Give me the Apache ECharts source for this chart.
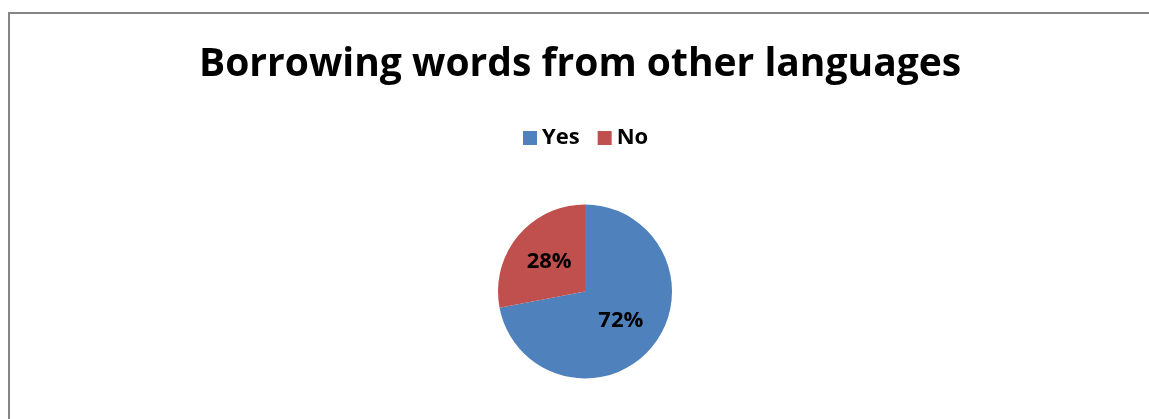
<!DOCTYPE html>
<html>
<head>
<meta charset="utf-8">
<script src="https://cdn.jsdelivr.net/npm/echarts@6/dist/echarts.min.js"></script>
<style>
  html, body { margin: 0; padding: 0; background: #fff; }
  #chart { width: 1149px; height: 419px; }
</style>
</head>
<body>
<div id="chart"></div>
<script>
// Survey answers: do speakers borrow words from other languages?
const categories = ['Yes', 'No'];
const shares = [72, 28];
const sliceColors = ['#4F81BD', '#C0504D'];
const titleText = 'Borrowing words from other languages';

const chart = echarts.init(document.getElementById('chart'), null, { renderer: 'canvas' });

const pieData = categories.map((name, i) => ({
  name: name,
  value: shares[i],
  itemStyle: { color: sliceColors[i] }
}));

chart.setOption({
  animation: false,
  backgroundColor: '#ffffff',
  color: sliceColors,
  title: {
    text: titleText,
    left: 194,
    top: 40,
    textStyle: {
      fontFamily: 'Open Sans',
      fontWeight: 'bold',
      fontSize: 39,
      color: '#000000'
    }
  },
  legend: {
    data: categories,
    left: 518,
    top: 122,
    icon: 'rect',
    itemWidth: 14,
    itemHeight: 14,
    itemGap: 18,
    itemStyle: { borderWidth: 0 },
    textStyle: {
      fontFamily: 'Open Sans',
      fontWeight: 'bold',
      fontSize: 22,
      color: '#000000'
    }
  },
  graphic: [{
    type: 'rect',
    shape: { x: 9, y: 13, width: 1300, height: 600 },
    style: { fill: 'none', stroke: '#868686', lineWidth: 2 },
    silent: true,
    z: -1
  }],
  series: [{
    type: 'pie',
    center: [585, 291.5],
    radius: 87,
    startAngle: 90,
    clockwise: true,
    data: pieData,
    label: {
      show: true,
      position: 'inside',
      formatter: '{d}%',
      fontFamily: 'Open Sans',
      fontWeight: 'bold',
      fontSize: 22,
      color: '#000000'
    },
    labelLine: { show: false },
    itemStyle: { borderWidth: 0 },
    emphasis: { disabled: true }
  }]
});
</script>
</body>
</html>
